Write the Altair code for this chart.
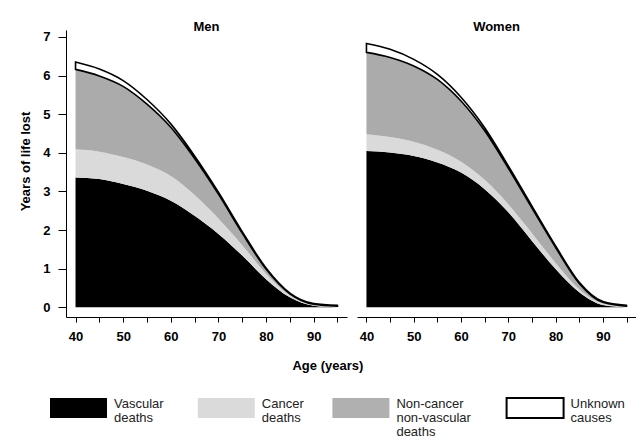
import altair as alt
import pandas as pd

ages = [40, 45, 50, 55, 60, 65, 70, 75, 80, 85, 90, 95]
causes = ["Vascular deaths", "Cancer deaths", "Non-cancer non-vascular deaths", "Unknown causes"]
legend_labels = ["Vascular\ndeaths", "Cancer\ndeaths", "Non-cancer\nnon-vascular\ndeaths", "Unknown\ncauses"]
fill_colors = ["#000000", "#dadada", "#ababab", "#ffffff"]

men_vascular = [3.36, 3.32, 3.19, 3.02, 2.76, 2.37, 1.90, 1.34, 0.73, 0.26, 0.04, 0.00]
men_cancer = [0.73, 0.71, 0.70, 0.68, 0.64, 0.54, 0.40, 0.27, 0.14, 0.05, 0.02, 0.01]
men_noncancer = [2.07, 1.96, 1.83, 1.56, 1.26, 0.94, 0.63, 0.31, 0.12, 0.04, 0.02, 0.02]
men_unknown = [0.19, 0.18, 0.15, 0.12, 0.09, 0.07, 0.05, 0.04, 0.03, 0.02, 0.02, 0.02]

women_vascular = [4.05, 4.01, 3.92, 3.75, 3.49, 3.06, 2.46, 1.72, 0.99, 0.39, 0.06, 0.00]
women_cancer = [0.43, 0.40, 0.37, 0.33, 0.28, 0.24, 0.21, 0.20, 0.16, 0.08, 0.04, 0.02]
women_noncancer = [2.12, 2.06, 1.96, 1.82, 1.57, 1.27, 0.93, 0.65, 0.40, 0.15, 0.03, 0.01]
women_unknown = [0.23, 0.21, 0.17, 0.13, 0.10, 0.08, 0.06, 0.05, 0.04, 0.03, 0.02, 0.02]

y_ticks = [0, 1, 2, 3, 4, 5, 6, 7]
x_ticks = [40, 45, 50, 55, 60, 65, 70, 75, 80, 85, 90, 95]

FONT = "Liberation Sans"


def long_df(series_list):
    rows = []
    for k, (cause, vals) in enumerate(zip(causes, series_list)):
        for a, v in zip(ages, vals):
            rows.append({"age": a, "cause": cause, "value": v, "order": k})
    return pd.DataFrame(rows)


men_df = long_df([men_vascular, men_cancer, men_noncancer, men_unknown])
women_df = long_df([women_vascular, women_cancer, women_noncancer, women_unknown])

is_unknown = "datum.cause == 'Unknown causes'"


def panel(d, title, show_y, width):
    if show_y:
        yaxis = alt.Axis(values=y_ticks, title="Years of life lost", tickSize=8,
                         labelPadding=8, titlePadding=10, titleY=131, grid=False)
    else:
        yaxis = None
    return alt.Chart(d).mark_area(interpolate="monotone").encode(
        x=alt.X("age:Q", scale=alt.Scale(domain=[38, 97], nice=False, zero=False),
                axis=alt.Axis(values=x_ticks, title=None, tickSize=5, labelPadding=8,
                              labelExpr="datum.value % 10 == 0 ? datum.label : ''",
                              grid=False)),
        y=alt.Y("value:Q", stack="zero",
                scale=alt.Scale(domain=[-0.25, 7.18], nice=False, zero=False),
                axis=yaxis),
        color=alt.Color("cause:N", scale=alt.Scale(domain=causes, range=fill_colors), legend=None),
        stroke=alt.condition(is_unknown, alt.value("#000000"), alt.value("transparent")),
        strokeWidth=alt.condition(is_unknown, alt.value(1.6), alt.value(0)),
        order=alt.Order("order:Q"),
    ).properties(
        width=width, height=287,
        title=alt.TitleParams(title, offset=-4, fontSize=13, fontWeight="bold", anchor="middle"),
    )


men = panel(men_df, "Men", True, 281)
women = panel(women_df, "Women", False, 279)

top = alt.hconcat(men, women, spacing=10).properties(
    title=alt.TitleParams("Age (years)", orient="bottom", anchor="middle", offset=17,
                          fontSize=13, fontWeight="bold")
)

leg = pd.DataFrame({"cause": causes, "label": legend_labels, "idx": list(range(len(causes)))})
leg["maxlen"] = [max(len(s) for s in l.split("\n")) for l in legend_labels]

legend_base = alt.Chart(leg).transform_calculate(
    w="57 + 8 + datum.maxlen * 6.6 + 30"
).transform_window(
    cum="sum(w)", sort=[alt.SortField("idx")]
).transform_calculate(
    x0="datum.cum - datum.w", x1="datum.cum - datum.w + 57", xt="datum.cum - datum.w + 64"
)
xs = alt.Scale(domain=[16, 576], nice=False, zero=False)
rects = legend_base.mark_rect().encode(
    x=alt.X("x0:Q", scale=xs, axis=None),
    x2="x1:Q",
    y=alt.value(0), y2=alt.value(20),
    fill=alt.Fill("cause:N", scale=alt.Scale(domain=causes, range=["#000000", "#dadada", "#b0b0b0", "#ffffff"]), legend=None),
    stroke=alt.condition(is_unknown, alt.value("#000000"), alt.value("transparent")),
    strokeWidth=alt.condition(is_unknown, alt.value(2), alt.value(0)),
)
texts = legend_base.mark_text(align="left", baseline="top", lineBreak="\n", fontSize=13,
                              lineHeight=14, font=FONT, color="#222222").encode(
    x=alt.X("xt:Q", scale=xs, axis=None),
    y=alt.value(0),
    text="label:N",
)
legend = alt.layer(rects, texts).properties(width=560, height=40)

chart = alt.vconcat(top, legend, spacing=24).properties(
    padding={"left": 11, "top": 13, "right": 0, "bottom": 0},
    background="white",
).configure_view(stroke=None).configure_axis(
    domainColor="black", tickColor="black", labelColor="black", titleColor="black",
    labelFont=FONT, titleFont=FONT, labelFontSize=13, labelFontWeight="bold",
    titleFontSize=13, titleFontWeight="bold", domainWidth=1, tickWidth=1,
).configure_title(font=FONT, color="black")

chart.save("out.html", embed_options={"renderer": "svg", "actions": False})
